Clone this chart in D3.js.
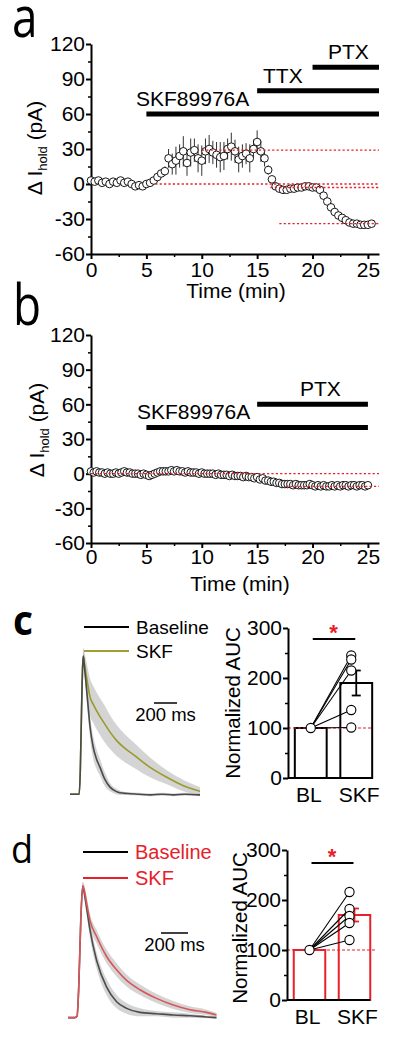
<!DOCTYPE html>
<html><head><meta charset="utf-8">
<script src="https://cdn.jsdelivr.net/npm/d3@7"></script>
<style>
body{margin:0;background:#fff}
svg{display:block;font-family:"Liberation Sans",Arial,sans-serif}
</style>
</head><body><svg id="fig" width="400" height="1038"></svg>
<script>
// ---------------- DATA ----------------
// Panel a: holding current change (pA), sampled every 1/3 min
const sampleStepA = 1/3;
const holdA = [3,2,3,1,2,0,2,1,3,1,2,0,-2,-1,-2,0,
  1,3,6,9,11,22,
  17,20,24,28,18,27,29,22,20,28,30,27,25,23,24,30,32,28,21,24,26,22,30,36,
  28,22,12,
  4,-2,-4,-5,-5,-4,-4,-3,-3,-2,-2,
  -3,-3,-5,-10,-15,-20,-24,-27,-29,-31,-33,-34,-34,-35,-35,-35,-34];
const semHoldA = [2,2,2,2,2,2,2,2,2,2,2,2,2,2,2,2,
  2,2,3,3,4,8,
  9,12,10,13,11,12,10,12,13,11,12,10,11,13,12,9,12,10,11,10,9,12,8,10,
  9,7,4,
  3,2,2,2,2,2,2,2,2,2,2,
  2,2,2,3,3,3,3,3,3,3,3,3,3,3,3,3,2];
// Panel b: sampled every 0.25 min
const sampleStepB = 0.25;
const holdB = [2,1,2,1,1,0,1,0,0,1,0,1,2,1,1,0,0,0,-1,0,
  -1,-2,-1,0,1,2,2,2,2,3,2,3,2,2,1,2,1,1,1,0,
  1,0,0,0,0,-1,0,-1,-1,-1,-2,-1,-2,-2,-2,-3,-2,-3,-3,-4,
  -3,-5,-4,-6,-6,-7,-7,-8,-8,-9,-9,-9,-9,-10,-9,-10,-10,-10,-10,-9,
  -10,-11,-10,-11,-10,-11,-11,-10,-11,-10,-11,-10,-10,-11,-10,-10,-11,-10,-10,-11,-10];
const semHoldB = 2;

const timeTicks = [0,5,10,15,20,25];
const timeMinorTicks = [2.5,7.5,12.5,17.5,22.5];
const holdTicks = [-60,-30,0,30,60,90,120];
const holdMinorTicks = [-45,-15,15,45,75,105];

// drug application bars: [label, start(min), end(min), level(pA)]
const drugsA = [["SKF89976A",5,26,60],["TTX",15,26,80],["PTX",20,26,100]];
const drugsB = [["SKF89976A",5,25,40],["PTX",15,25,60]];
// red dotted reference levels: [level, from(min), to(min)]
const refA = [[29,10,26],[0,5.8,26],[-3,16.2,26],[-34,17,26]];
const refB = [[0,0,26],[-11,17.6,26]];

// Panel c traces (normalised amplitude vs ms)
const timeC_BL = [0,40,80,90,100,110,116,125,140,160,174,200,230,261,300,348,400,435,500,600,700,800,900,1000,1130];
const ampC_BL  = [.02,.02,.02,.2,.6,.93,1,.93,.8,.62,.5,.36,.27,.21,.13,.07,.04,.03,.025,.02,.015,.02,.015,.02,.015];
const semC_BL  = [.005,.005,.005,.02,.03,.04,.04,.05,.07,.08,.08,.08,.07,.06,.05,.03,.02,.015,.01,.01,.01,.01,.01,.01,.01];
const timeC_SKF = [0,40,80,90,100,110,116,125,140,160,174,200,261,300,348,406,470,551,696,841,986,1130];
const ampC_SKF  = [.02,.02,.02,.2,.6,.93,1,.95,.87,.77,.71,.66,.57,.52,.46,.4,.35,.3,.21,.14,.08,.04];
const semC_SKF  = [.005,.005,.005,.02,.03,.05,.06,.08,.1,.12,.13,.13,.13,.13,.12,.11,.1,.09,.07,.05,.04,.03];
// Panel d traces
const timeD = [0,50,67,80,95,109,120,140,163,212,286,360,434,533,656,780,903,1026,1100];
const ampD_BL  = [.01,.01,.02,.25,.75,1,.95,.82,.67,.44,.24,.13,.08,.05,.04,.03,.025,.015,.01];
const semD_BL  = [.005,.005,.005,.02,.03,.03,.04,.05,.06,.06,.06,.05,.04,.03,.02,.02,.015,.01,.01];
const ampD_SKF = [.01,.01,.02,.25,.75,1,.97,.86,.74,.62,.47,.37,.29,.22,.155,.105,.07,.05,.03];
const semD_SKF = [.005,.005,.005,.02,.03,.03,.04,.05,.05,.05,.05,.05,.045,.04,.035,.03,.025,.02,.015];

// AUC bar charts
const groups = ["BL","SKF"];
const aucTicks = [0,100,200,300];
const aucMinorTicks = [50,150,250];
const aucC_mean = [100,190], aucC_sem = [0,25];
const aucC_cells = [245,237,215,136,101];
const aucD_mean = [100,170], aucD_sem = [0,13];
const aucD_cells = [216,182,168,154,120];

// ---------------- DRAW ----------------
const svg = d3.select("#fig");
const RED = "#e8202a";
const fmt = d => String(d);

function styleAxis(sel, w){
  sel.selectAll("path.domain").attr("stroke","#000").attr("stroke-width",2);
  sel.selectAll(".tick line").attr("stroke","#000").attr("stroke-width",w||2);
  sel.selectAll(".tick text").attr("font-size",21).attr("fill","#000").attr("font-family","Liberation Sans, Arial, sans-serif");
}

function panelLetter(txt, x, y, size, sx, bold){
  svg.append("text").attr("transform",`translate(${x},${y}) scale(${sx},1)`)
    .attr("font-family","Open Sans, Noto Sans, sans-serif").attr("font-size",size)
    .attr("font-weight", bold ? 700 : 400).text(txt);
}

function timeCourse(o){
  const x = d3.scaleLinear().domain([0,26]).range([91,379]);
  const y = d3.scaleLinear().domain([-60,120]).range([o.yBottom,o.yTop]);
  const g = svg.append("g");
  const data = o.values.map((v,i)=>({t:i*o.step, v, e: Array.isArray(o.sem)? o.sem[i] : o.sem}));

  // axes
  const ya = g.append("g").attr("transform",`translate(${x(0)},0)`)
    .call(d3.axisLeft(y).tickValues(holdTicks).tickSize(5).tickPadding(1).tickSizeOuter(0).tickFormat(fmt));
  styleAxis(ya);
  const ym = g.append("g").attr("transform",`translate(${x(0)},0)`)
    .call(d3.axisLeft(y).tickValues(holdMinorTicks).tickSize(3).tickFormat(""));
  ym.select("path.domain").remove(); styleAxis(ym,1.5);
  const xa = g.append("g").attr("transform",`translate(0,${y(-60)})`)
    .call(d3.axisBottom(x).tickValues(timeTicks).tickSize(5).tickPadding(o.xPad).tickSizeOuter(0).tickFormat(fmt));
  styleAxis(xa);
  const xm = g.append("g").attr("transform",`translate(0,${y(-60)})`)
    .call(d3.axisBottom(x).tickValues(timeMinorTicks).tickSize(3).tickFormat(""));
  xm.select("path.domain").remove(); styleAxis(xm,1.5);

  // error bars
  g.append("g").selectAll("line").data(data).join("line")
    .attr("x1",d=>x(d.t)).attr("x2",d=>x(d.t))
    .attr("y1",d=>y(d.v-d.e)).attr("y2",d=>y(d.v+d.e))
    .attr("stroke","#333").attr("stroke-width",1);
  // points
  g.append("g").selectAll("circle").data(data).join("circle")
    .attr("cx",d=>x(d.t)).attr("cy",d=>y(d.v)).attr("r",3.8)
    .attr("fill","#fff").attr("stroke","#000").attr("stroke-width",0.9);
  // red reference lines
  g.append("g").selectAll("line").data(o.refs).join("line")
    .attr("x1",d=>x(d[1])).attr("x2",d=>x(d[2]))
    .attr("y1",d=>y(d[0])).attr("y2",d=>y(d[0]))
    .attr("stroke",RED).attr("stroke-width",1.3).attr("stroke-dasharray","2.2,2.2");
  // drug bars
  g.append("g").selectAll("line").data(o.drugs).join("line")
    .attr("x1",d=>x(d[1])).attr("x2",d=>x(d[2]))
    .attr("y1",d=>y(d[3])).attr("y2",d=>y(d[3]))
    .attr("stroke","#000").attr("stroke-width",5);
  g.append("g").selectAll("text").data(o.drugs).join("text")
    .attr("x",(d,i)=>o.labelX[i]).attr("y",d=>y(d[3])-8)
    .attr("font-size",21).text(d=>d[0]);

  // axis titles
  const yl = g.append("text").attr("transform",`translate(${o.yLabelX},${o.yLabelY}) rotate(-90)`)
    .attr("text-anchor","middle").attr("font-size",21);
  yl.append("tspan").text("\u0394 I");
  yl.append("tspan").attr("font-size",13).attr("dy",5).text("hold");
  yl.append("tspan").attr("dy",-5).text(" (pA)");
  g.append("text").attr("x",o.xLabelX).attr("y",y(-60)+o.xLabelDy).attr("text-anchor","middle")
    .attr("font-size",21).text("Time (min)");
}

timeCourse({yTop:44,yBottom:254,values:holdA,step:sampleStepA,sem:semHoldA,refs:refA,drugs:drugsA,
  labelX:[136,263,328],yLabelX:42,yLabelY:148,xLabelX:236,xPad:3,xLabelDy:44});
timeCourse({yTop:335,yBottom:543,values:holdB,step:sampleStepB,sem:semHoldB,refs:refB,drugs:drugsB,
  labelX:[137,300],yLabelX:44,yLabelY:430,xLabelX:240,xPad:1,xLabelDy:48});

function tracePanel(o){
  const x = d3.scaleLinear().domain([0,o.tMax]).range([o.x0,o.x1]);
  const y = d3.scaleLinear().domain([0,1]).range([o.yBase,o.yPeak]);
  const g = svg.append("g");
  const area = d3.area().x(d=>x(d.t)).y0(d=>y(d.v-d.e)).y1(d=>y(d.v+d.e)).curve(d3.curveMonotoneX);
  const line = d3.line().x(d=>x(d.t)).y(d=>y(d.v)).curve(d3.curveMonotoneX);
  o.series.forEach(s=>{
    const d = s.t.map((t,i)=>({t, v:s.v[i], e:s.e[i]}));
    g.append("path").datum(d).attr("d",area).attr("fill","#b8b8b8").attr("opacity",0.6);
  });
  o.series.forEach(s=>{
    const d = s.t.map((t,i)=>({t, v:s.v[i], e:s.e[i]}));
    g.append("path").datum(d).attr("d",line).attr("fill","none").attr("stroke",s.color).attr("stroke-width",1.6);
  });
  // scale bar
  g.append("line").attr("x1",x(o.sbStart)).attr("x2",x(o.sbStart+200))
    .attr("y1",o.sbY).attr("y2",o.sbY).attr("stroke","#000").attr("stroke-width",1.5);
  g.append("text").attr("x",(x(o.sbStart)+x(o.sbStart+200))/2).attr("y",o.sbY+18)
    .attr("text-anchor","middle").attr("font-size",18.5).text("200 ms");
  // legend
  o.legend.forEach((l,i)=>{
    const ly = o.legY + i*o.legGap;
    g.append("line").attr("x1",o.legX).attr("x2",o.legX+45).attr("y1",ly).attr("y2",ly)
      .attr("stroke",l.color).attr("stroke-width",1.8);
    g.append("text").attr("x",o.legX+52).attr("y",ly+6.5).attr("font-size",o.legFont)
      .attr("fill",l.textColor).text(l.label);
  });
}

tracePanel({tMax:1130,x0:70,x1:200,yBase:797,yPeak:656,sbStart:730,sbY:703,
  series:[{t:timeC_SKF,v:ampC_SKF,e:semC_SKF,color:"#9a9a2c"},
          {t:timeC_BL,v:ampC_BL,e:semC_BL,color:"#4a4a4a"}],
  legend:[{label:"Baseline",color:"#000",textColor:"#000"},{label:"SKF",color:"#a0a032",textColor:"#000"}],
  legX:84,legY:627,legGap:24,legFont:19});
tracePanel({tMax:1100,x0:68,x1:216.5,yBase:1019,yPeak:886,sbStart:689,sbY:933,
  series:[{t:timeD,v:ampD_BL,e:semD_BL,color:"#4d4d4d"},
          {t:timeD,v:ampD_SKF,e:semD_SKF,color:"#da5558"}],
  legend:[{label:"Baseline",color:"#000",textColor:RED},{label:"SKF",color:RED,textColor:RED}],
  legX:83,legY:852,legGap:26,legFont:20});

function aucPanel(o){
  const x = d3.scaleBand().domain(groups).range([o.xa,o.xb]).paddingInner(0.3).paddingOuter(0.15);
  const y = d3.scaleLinear().domain([0,300]).range([o.y0,o.y0-150]);
  const g = svg.append("g");
  const bw = x.bandwidth();
  // bars
  g.append("g").selectAll("rect").data(groups).join("rect")
    .attr("x",d=>x(d)).attr("width",bw)
    .attr("y",(d,i)=>y(o.mean[i])).attr("height",(d,i)=>y(0)-y(o.mean[i]))
    .attr("fill","#fff").attr("stroke",o.barColor).attr("stroke-width",2);
  // error bar for SKF
  const cx = x("SKF")+bw/2;
  const m = o.mean[1], s = o.sem[1];
  g.append("line").attr("x1",cx).attr("x2",cx).attr("y1",y(m-s)).attr("y2",y(m+s))
    .attr("stroke",o.barColor).attr("stroke-width",1.8);
  [m-s,m+s].forEach(v=>g.append("line").attr("x1",cx-4.5).attr("x2",cx+4.5).attr("y1",y(v)).attr("y2",y(v))
    .attr("stroke",o.barColor).attr("stroke-width",1.8));
  // red dashed 100 line
  g.append("line").attr("x1",o.xa).attr("x2",o.dashEnd).attr("y1",y(100)).attr("y2",y(100))
    .attr("stroke",RED).attr("stroke-width",1.1).attr("stroke-dasharray","3,2");
  // paired lines + circles
  const bx = x("BL")+bw/2, sx = x("SKF")+bw/2-5;
  g.append("g").selectAll("line").data(o.cells).join("line")
    .attr("x1",bx).attr("y1",y(100)).attr("x2",sx).attr("y2",d=>y(d))
    .attr("stroke","#000").attr("stroke-width",1.1);
  g.append("circle").attr("cx",bx).attr("cy",y(100)).attr("r",4.6)
    .attr("fill","#fff").attr("stroke","#000").attr("stroke-width",1.1);
  g.append("g").selectAll("circle").data(o.cells).join("circle")
    .attr("cx",sx).attr("cy",d=>y(d)).attr("r",4.6)
    .attr("fill","#fff").attr("stroke","#000").attr("stroke-width",1.1);
  // axes
  const ya = g.append("g").attr("transform",`translate(${o.xa},0)`)
    .call(d3.axisLeft(y).tickValues(aucTicks).tickSize(5).tickPadding(1).tickSizeOuter(0).tickFormat(fmt));
  styleAxis(ya);
  const ym = g.append("g").attr("transform",`translate(${o.xa},0)`)
    .call(d3.axisLeft(y).tickValues(aucMinorTicks).tickSize(3).tickFormat(""));
  ym.select("path.domain").remove(); styleAxis(ym,1.5);
  g.append("line").attr("x1",o.xa).attr("x2",x("SKF")+bw).attr("y1",y(0)).attr("y2",y(0))
    .attr("stroke","#000").attr("stroke-width",2);
  g.append("g").selectAll("text").data(groups).join("text")
    .attr("x",d=>x(d)+bw/2+(d==="SKF"?3:-2)).attr("y",y(0)+24).attr("text-anchor","middle")
    .attr("font-size",21).text(d=>d);
  // significance
  g.append("line").attr("x1",bx+2).attr("x2",x("SKF")+bw/2-1).attr("y1",o.sigY).attr("y2",o.sigY)
    .attr("stroke","#000").attr("stroke-width",2);
  g.append("text").attr("x",(bx+x("SKF")+bw/2)/2).attr("y",o.sigY+1).attr("text-anchor","middle")
    .attr("font-size",22).attr("font-weight",700).attr("fill",RED).text("*");
  g.append("text").attr("transform",`translate(${o.yLabX},${o.yLabY}) rotate(-90)`)
    .attr("text-anchor","middle").attr("font-size",20.5).text("Normalized AUC");
}

aucPanel({xa:288,xb:379,y0:778,mean:aucC_mean,sem:aucC_sem,cells:aucC_cells,barColor:"#000",
  dashEnd:372,sigY:639,yLabX:240,yLabY:703});
aucPanel({xa:287,xb:377,y0:1000,mean:aucD_mean,sem:aucD_sem,cells:aucD_cells,barColor:RED,
  dashEnd:376,sigY:863,yLabX:247,yLabY:928});

panelLetter("a",12,37,56,0.82,false);
panelLetter("b",13,325,56,0.82,false);
panelLetter("c",13,635,41,0.95,true);
panelLetter("d",11,863,38,0.95,false);
</script></body></html>
